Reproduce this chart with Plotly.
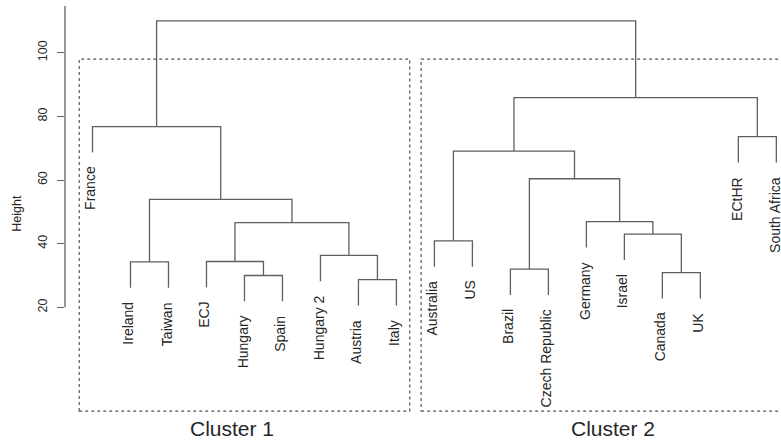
import plotly.graph_objects as go

# ---- data ----
leaves = ["France", "Ireland", "Taiwan", "ECJ", "Hungary", "Spain", "Hungary 2",
          "Austria", "Italy", "Australia", "US", "Brazil", "Czech Republic",
          "Germany", "Israel", "Canada", "UK", "ECtHR", "South Africa"]
# merges: a string = leaf, an int = earlier merge (1-based)
merge_left = ["Hungary", "Austria", "Canada", "Brazil", "Ireland", "ECJ", "Hungary 2",
              "Australia", "Israel", 6, "Germany", 5, 4, 8, "ECtHR", "France", 14, 16]
merge_right = ["Spain", "Italy", "UK", "Czech Republic", "Taiwan", 1, 2, "US", 3, 7,
               9, 10, 11, 13, "South Africa", 12, 15, 17]
merge_height = [30.0, 28.7, 30.9, 32.0, 34.3, 34.4, 36.3, 40.9, 43.0, 46.6, 46.9,
                53.9, 60.4, 69.1, 73.6, 76.8, 85.9, 110.0]
cluster_names = ["Cluster 1", "Cluster 2"]
cluster_first = ["France", "Australia"]
cluster_last = ["Italy", "South Africa"]
y_ticks = [20, 40, 60, 80, 100]

# ---- layout constants ----
LINE = "#5f5f5f"
TXT = "#262626"
FONT = "Liberation Sans, Arial, sans-serif"
hang = 0.1 * (max(merge_height) - min(merge_height))

leaf_x = {name: i + 1 for i, name in enumerate(leaves)}
merge_x = []
xs, ys = [], []
leaf_end = {}


def child_pos(c, h):
    if isinstance(c, str):
        leaf_end[c] = h - hang
        return leaf_x[c], h - hang
    return merge_x[c - 1], merge_height[c - 1]


for l, r, h in zip(merge_left, merge_right, merge_height):
    lx, ly = child_pos(l, h)
    rx, ry = child_pos(r, h)
    xs += [lx, lx, rx, rx, None]
    ys += [ly, h, h, ry, None]
    merge_x.append((lx + rx) / 2)

fig = go.Figure()
fig.add_trace(go.Scatter(x=xs, y=ys, mode="lines",
                         line=dict(color=LINE, width=1.3),
                         hoverinfo="skip", showlegend=False))

annotations = []
for name in leaves:
    annotations.append(dict(x=leaf_x[name], y=leaf_end[name], xref="x", yref="y",
                            text=name, textangle=-90, showarrow=False,
                            xanchor="center", yanchor="top", yshift=-12, xshift=-2,
                            font=dict(family=FONT, size=14, color=TXT)))

shapes = []
box_top, box_bottom, pad = 98.0, -12.6, 0.35
label_x = [4.68, 14.70]
for cname, a, b, lx in zip(cluster_names, cluster_first, cluster_last, label_x):
    x0 = leaf_x[a] - pad
    x1 = leaf_x[b] + pad
    shapes.append(dict(type="rect", xref="x", yref="y", x0=x0, x1=x1,
                       y0=box_bottom, y1=box_top,
                       line=dict(color="#555555", width=1.2, dash="3px,3px")))
    annotations.append(dict(x=lx, y=-18.2, xref="x", yref="y", text=cname,
                            showarrow=False, xanchor="center", yanchor="middle",
                            font=dict(family=FONT, size=21, color=TXT)))

# y axis line
shapes.append(dict(type="line", xref="paper", yref="y", x0=0, x1=0, y0=20, y1=114.7,
                   line=dict(color=LINE, width=1.3)))

annotations.append(dict(x=-0.0675, y=49.6, xref="paper", yref="y", text="Height",
                        textangle=-90, showarrow=False, xanchor="center",
                        yanchor="middle",
                        font=dict(family=FONT, size=12.5, color=TXT)))

fig.update_layout(
    width=781, height=444,
    margin=dict(l=65, r=0, t=0, b=0),
    paper_bgcolor="white", plot_bgcolor="white",
    showlegend=False,
    shapes=shapes, annotations=annotations,
    xaxis=dict(range=[0.276, 19.123], visible=False, fixedrange=True),
    yaxis=dict(range=[-22.95, 116.56], tickvals=y_ticks,
               ticktext=[str(v) for v in y_ticks], tickangle=-90,
               ticks="outside", ticklen=7, tickcolor=LINE, tickwidth=1.3,
               ticklabelstandoff=5,
               showline=False, showgrid=False, zeroline=False,
               tickfont=dict(family=FONT, size=12.5, color=TXT),
               automargin=False, fixedrange=True),
)

fig.write_html("out.html", config={"displayModeBar": False},
               post_script="document.body.style.margin='0';document.body.style.overflow='hidden';")
